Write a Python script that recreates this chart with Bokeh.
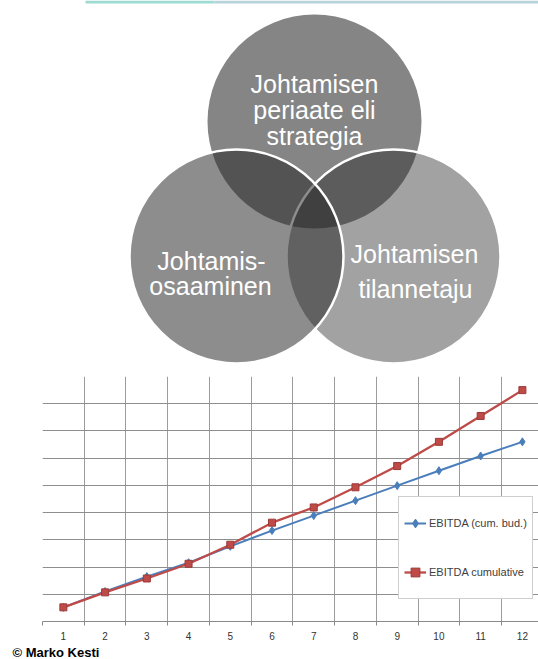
from bokeh.plotting import figure
from bokeh.layouts import column
from bokeh.models import Range1d, FixedTicker, Legend, LegendItem, Grid, Title
from bokeh.core.properties import value
from bokeh.embed import file_html
from bokeh.resources import INLINE

# ---------------- data ----------------
months = [1, 2, 3, 4, 5, 6, 7, 8, 9, 10, 11, 12]
month_labels = [str(m) for m in months]
ebitda_budget = [0.52, 1.10, 1.65, 2.16, 2.76, 3.34, 3.89, 4.44, 4.99, 5.54, 6.08, 6.60]
ebitda_actual = [0.52, 1.07, 1.58, 2.12, 2.82, 3.63, 4.19, 4.93, 5.71, 6.60, 7.55, 8.50]
series_names = ["EBITDA (cum. bud.)", "EBITDA cumulative"]

venn_top_text = ["Johtamisen", "periaate eli", "strategia"]
venn_left_text = ["Johtamis-", "osaaminen"]
venn_right_text = ["Johtamisen", "tilannetaju"]
credit = "© Marko Kesti"

FONT = "Liberation Sans"
LEFT = 42  # shared left border (column layout aligns the frames)

# ---------------- Venn diagram ----------------
p1 = figure(width=538, height=370, x_range=Range1d(LEFT, 538), y_range=Range1d(370, 0),
            output_backend="svg", toolbar_location=None, min_border=0,
            min_border_left=LEFT, min_border_right=0,
            x_axis_type=None, y_axis_type=None)
p1.grid.visible = False
p1.outline_line_color = None
p1.background_fill_color = "white"
p1.border_fill_color = "white"

# thin decorative band at the very top
p1.segment(x0=[85], y0=[1.5], x1=[214], y1=[1.5], line_width=3, line_color="#9edbd3")
p1.segment(x0=[214], y0=[1.5], x1=[538], y1=[1.5], line_width=3, line_color="#b6d3dc")

R = 107
p1.circle(x=[314], y=[121], radius=R, fill_color="#282828", fill_alpha=0.567, line_color=None)
p1.circle(x=[393], y=[256], radius=R, fill_color="#282828", fill_alpha=0.433,
          line_color="white", line_width=2.5)
p1.circle(x=[236], y=[256], radius=R, fill_color="#282828", fill_alpha=0.530,
          line_color="white", line_width=2.5)

txt_kw = dict(text_font=value(FONT), text_font_size="25px", text_color="white",
              text_align="center", text_baseline="alphabetic")
p1.text(x=[314, 314, 314], y=[83, 109, 135], text=venn_top_text, **txt_kw)
p1.text(x=[211, 210], y=[260, 285], text=venn_left_text, **txt_kw)
p1.text(x=[414, 415], y=[253, 288], text=venn_right_text, **txt_kw)

# ---------------- line chart ----------------
p2 = figure(width=538, height=289, x_range=Range1d(0.5, 12.386), y_range=Range1d(0, 9),
            output_backend="svg", toolbar_location=None,
            min_border_left=LEFT, min_border_right=0, min_border_top=6, min_border_bottom=37,
            y_axis_type=None)
p2.outline_line_color = None
p2.background_fill_color = "white"
p2.border_fill_color = "white"

boundaries = [m - 0.5 for m in months]
p2.xaxis.ticker = FixedTicker(ticks=months, minor_ticks=boundaries)
p2.xaxis.major_label_overrides = {m: lab for m, lab in zip(months, month_labels)}
p2.xaxis.major_tick_out = 0
p2.xaxis.major_tick_in = 0
p2.xaxis.minor_tick_out = 4
p2.xaxis.minor_tick_in = 0
p2.xaxis.minor_tick_line_color = "#8a8a8a"
p2.xaxis.axis_line_color = "#8a8a8a"
p2.xaxis.major_label_standoff = 6
p2.xaxis.major_label_text_font = FONT
p2.xaxis.major_label_text_font_size = "10px"
p2.xaxis.major_label_text_color = "#333333"

p2.xgrid.ticker = FixedTicker(ticks=boundaries)
p2.xgrid.grid_line_color = "#9c9c9c"
p2.xgrid.grid_line_alpha = 1
p2.add_layout(Grid(dimension=1, ticker=FixedTicker(ticks=list(range(0, 9))),
                   grid_line_color="#8e8e8e", grid_line_alpha=1))

blue = "#4a7ebb"
red = "#be4b48"
l1 = p2.line(months, ebitda_budget, line_color=blue, line_width=2)
s1 = p2.scatter(months, ebitda_budget, marker="diamond", size=8, fill_color=blue, line_color=blue)
l2 = p2.line(months, ebitda_actual, line_color=red, line_width=2.3)
s2 = p2.scatter(months, ebitda_actual, marker="square", size=7, fill_color=red, line_color="#9c3a37")

legend = Legend(items=[LegendItem(label=series_names[0], renderers=[l1, s1]),
                       LegendItem(label=series_names[1], renderers=[l2, s2])],
                location=(356, 22), padding=5, spacing=7, glyph_width=22, glyph_height=42,
                label_height=42, label_standoff=3, label_text_font=FONT,
                label_text_font_size="11px", label_text_color="#404040",
                border_line_color="#a0a0a0", border_line_width=1,
                background_fill_color="white", background_fill_alpha=1, margin=0)
p2.add_layout(legend)

p2.add_layout(Title(text=credit, align="left", offset=12 - LEFT, standoff=0,
                    text_font=FONT, text_font_size="13px", text_font_style="bold",
                    text_color="black"), "below")

layout = column(p1, p2, spacing=0)
open("out.html", "w").write(file_html(layout, INLINE))
